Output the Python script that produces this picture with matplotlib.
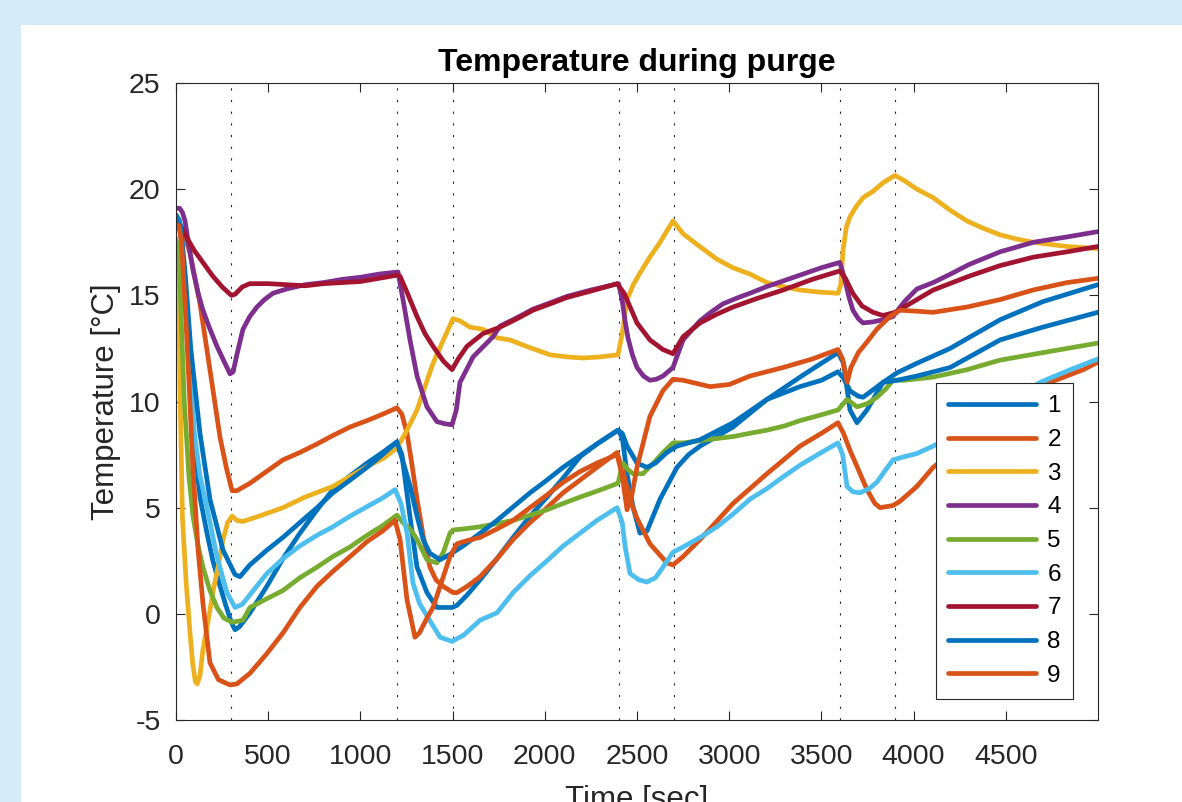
import matplotlib
matplotlib.use('Agg')
import matplotlib.pyplot as plt
from matplotlib.patches import Rectangle

plt.rcParams['font.family'] = ['Liberation Sans', 'DejaVu Sans']
plt.rcParams['axes.unicode_minus'] = False

# sensor traces (time [s], temperature [C])
t1 = [0, 20, 40, 70, 100, 130, 168, 200, 239, 270, 300, 320, 345, 401, 493, 580, 672, 765, 851, 944, 1036, 1120, 1198,
      1225, 1270, 1307, 1361, 1415, 1497, 1524, 1580, 1649, 1741, 1828, 1920, 2012, 2100, 2191, 2283, 2397,
      2420, 2446, 2478, 2516, 2554, 2625, 2717, 2780, 2842, 3021, 3205, 3384, 3500, 3590,
      3620, 3655, 3693, 3747, 3834, 3910, 4018, 4198, 4469, 4700, 4999]
temp1 = [18.8, 18.5, 16.5, 12.0, 8.0, 5.5, 3.8, 2.5, 1.3, 0.4, -0.4, -0.75, -0.6, 0.05, 1.3, 2.6, 3.8, 4.9, 5.85, 6.5, 7.1, 7.6, 8.1,
         7.5, 4.5, 2.2, 1.0, 0.3, 0.3, 0.4, 0.9, 1.6, 2.6, 3.6, 4.6, 5.5, 6.4, 7.4, 8.0, 8.65,
         8.3, 6.6, 5.05, 3.8, 3.9, 5.4, 6.9, 7.5, 7.9, 8.8, 10.1, 11.15, 11.8, 12.3,
         11.8, 9.6, 9.0, 9.6, 10.9, 11.35, 11.8, 12.5, 13.85, 14.7, 15.5]

t2 = [0, 20, 40, 76, 130, 184, 239, 275, 304, 330, 401, 490, 580, 672, 765, 851, 944, 1036, 1120, 1198,
      1225, 1253, 1280, 1307, 1340, 1377, 1410, 1448, 1502, 1524, 1580, 1649, 1741, 1828, 1920, 2012, 2099, 2191, 2283, 2392,
      2430, 2462, 2500, 2570, 2662, 2695, 2750, 2842, 3021, 3205, 3384, 3500, 3590,
      3620, 3655, 3700, 3747, 3790, 3818, 3888, 3926, 4018, 4106, 4300, 4500, 4740, 4920, 4999]
temp2 = [18.3, 18.3, 18.0, 17.0, 14.6, 11.5, 8.3, 6.8, 5.8, 5.8, 6.15, 6.7, 7.25, 7.6, 8.0, 8.4, 8.8, 9.1, 9.4, 9.7,
         9.4, 8.5, 7.0, 5.4, 3.7, 2.2, 1.6, 1.3, 1.0, 1.0, 1.3, 1.75, 2.6, 3.5, 4.3, 5.0, 5.7, 6.3, 6.9, 7.6,
         6.5, 5.4, 4.5, 3.3, 2.4, 2.3, 2.7, 3.5, 5.2, 6.6, 7.9, 8.5, 9.0,
         8.5, 7.7, 6.8, 5.85, 5.2, 5.0, 5.1, 5.3, 6.0, 6.9, 8.2, 9.5, 10.9, 11.5, 11.85]

t3 = [0, 12, 22, 35, 55, 75, 90, 105, 115, 130, 146, 175, 200, 230, 255, 280, 304, 330, 363, 450, 580, 700, 851, 950,
      1050, 1130, 1188, 1210, 1250, 1307, 1350, 1394, 1450, 1502, 1540, 1594, 1665, 1741, 1811, 1900, 2028, 2120, 2207,
      2300, 2397, 2420, 2446, 2480, 2516, 2570, 2625, 2695, 2750, 2840, 2934, 3020, 3113, 3205, 3300, 3384, 3490, 3590,
      3605, 3617, 3635, 3655, 3690, 3726, 3780, 3834, 3899, 3950, 4018, 4106, 4200, 4290, 4380, 4469, 4560, 4648,
      4740, 4832, 4920, 4999]
temp3 = [17.7, 16.5, 10.5, 4.5, 1.5, -0.8, -2.3, -3.2, -3.3, -2.9, -1.7, -0.3, 1.0, 2.3, 3.5, 4.3, 4.6, 4.4, 4.35, 4.6, 5.0, 5.5, 6.0, 6.5,
         7.0, 7.35, 7.75, 8.0, 8.6, 9.6, 10.7, 11.8, 12.9, 13.9, 13.8, 13.5, 13.4, 13.0, 12.9, 12.6, 12.2, 12.1, 12.05,
         12.1, 12.2, 13.2, 14.8, 15.5, 16.05, 16.8, 17.5, 18.5, 17.9, 17.3, 16.7, 16.3, 16.0, 15.6, 15.4, 15.25, 15.15, 15.1,
         15.5, 17.1, 18.2, 18.7, 19.2, 19.6, 19.9, 20.3, 20.65, 20.4, 20.0, 19.6, 19.0, 18.5, 18.15, 17.85, 17.65, 17.5,
         17.4, 17.3, 17.25, 17.2]

t4 = [0, 20, 35, 49, 70, 92, 120, 146, 180, 222, 260, 293, 310, 330, 363, 400, 439, 480, 526, 600, 700, 800, 900, 1000,
      1100, 1204, 1231, 1269, 1307, 1361, 1415, 1460, 1497, 1520, 1540, 1611, 1719, 1757, 1850, 1936, 2030, 2120, 2250,
      2400, 2419, 2435, 2451, 2475, 2500, 2535, 2570, 2605, 2641, 2695, 2720, 2750, 2800, 2842, 2900, 2966, 3050, 3113,
      3200, 3300, 3400, 3500, 3600, 3625, 3650, 3671, 3700, 3726, 3780, 3834, 3888, 3950, 4018, 4106, 4200, 4300, 4469,
      4650, 4832, 4999]
temp4 = [19.1, 19.1, 18.9, 18.5, 17.3, 16.2, 15.1, 14.3, 13.5, 12.6, 11.9, 11.3, 11.4, 12.2, 13.4, 14.0, 14.45, 14.8, 15.1, 15.3, 15.5, 15.6, 15.75, 15.85,
         16.0, 16.1, 14.8, 12.9, 11.2, 9.75, 9.05, 8.95, 8.9, 9.6, 10.9, 12.1, 13.05, 13.55, 13.95, 14.35, 14.65, 14.95, 15.25,
         15.55, 14.8, 13.8, 13.0, 12.2, 11.6, 11.2, 11.0, 11.05, 11.2, 11.6, 12.2, 12.9, 13.4, 13.8, 14.2, 14.6, 14.9, 15.1,
         15.4, 15.7, 16.0, 16.3, 16.55, 15.8, 14.9, 14.3, 13.9, 13.7, 13.75, 13.85, 14.0, 14.7, 15.3, 15.6, 16.0, 16.45, 17.05,
         17.5, 17.75, 18.0]

t5 = [0, 15, 30, 45, 70, 92, 120, 146, 184, 222, 260, 304, 363, 401, 490, 580, 672, 765, 851, 944, 1036, 1120, 1198,
      1230, 1270, 1307, 1361, 1415, 1450, 1486, 1502, 1560, 1649, 1741, 1828, 1920, 2012, 2100, 2191, 2290, 2397,
      2424, 2450, 2478, 2532, 2590, 2641, 2695, 2750, 2880, 3021, 3110, 3205, 3300, 3384, 3490, 3590,
      3639, 3693, 3750, 3801, 3850, 3888, 3950, 4106, 4290, 4469, 4700, 4999]
temp5 = [17.6, 17.2, 13.5, 10.0, 6.5, 4.6, 3.2, 2.2, 1.1, 0.3, -0.2, -0.4, -0.3, 0.3, 0.7, 1.1, 1.7, 2.2, 2.7, 3.15, 3.7, 4.15, 4.65,
         4.3, 4.0, 3.5, 2.55, 2.4, 2.9, 3.8, 3.95, 4.0, 4.1, 4.25, 4.4, 4.65, 4.9, 5.2, 5.5, 5.8, 6.15,
         7.1, 6.8, 6.6, 6.6, 7.1, 7.6, 8.05, 8.05, 8.2, 8.35, 8.5, 8.65, 8.85, 9.1, 9.35, 9.6,
         10.1, 9.75, 9.9, 10.2, 10.6, 11.0, 11.0, 11.15, 11.5, 11.95, 12.3, 12.75]

t6 = [0, 20, 40, 70, 100, 130, 168, 222, 276, 320, 360, 401, 493, 580, 672, 765, 851, 944, 1036, 1120, 1188,
      1220, 1253, 1285, 1320, 1361, 1432, 1497, 1560, 1649, 1741, 1828, 1920, 2012, 2100, 2191, 2283, 2392,
      2420, 2435, 2462, 2510, 2554, 2600, 2641, 2695, 2750, 2842, 2934, 3021, 3113, 3205, 3292, 3384, 3490, 3590,
      3615, 3639, 3670, 3709, 3760, 3801, 3850, 3888, 3950, 4018, 4106, 4300, 4500, 4686, 4850, 4999]
temp6 = [18.6, 18.4, 16.5, 12.0, 8.5, 6.5, 5.0, 2.7, 1.0, 0.3, 0.45, 0.9, 1.9, 2.6, 3.2, 3.7, 4.1, 4.6, 5.05, 5.45, 5.85,
         5.2, 3.8, 1.45, 0.5, -0.1, -1.1, -1.3, -1.0, -0.3, 0.05, 1.0, 1.8, 2.5, 3.2, 3.8, 4.4, 5.0,
         4.3, 3.2, 1.9, 1.6, 1.5, 1.7, 2.2, 2.9, 3.15, 3.6, 4.1, 4.7, 5.4, 5.9, 6.45, 7.0, 7.55, 8.05,
         7.5, 6.0, 5.75, 5.7, 5.9, 6.2, 6.8, 7.25, 7.4, 7.55, 7.9, 8.8, 9.9, 10.9, 11.5, 12.0]

t7 = [0, 30, 60, 100, 150, 200, 250, 300, 320, 360, 400, 500, 600, 700, 800, 900, 1000, 1100, 1200,
      1215, 1250, 1307, 1350, 1394, 1450, 1497, 1530, 1578, 1665, 1757, 1850, 1936, 2030, 2120, 2250, 2392,
      2430, 2470, 2500, 2570, 2640, 2695, 2750, 2842, 2930, 3021, 3150, 3292, 3450, 3600,
      3630, 3670, 3720, 3780, 3834, 3900, 4018, 4106, 4300, 4469, 4650, 4832, 4999]
temp7 = [18.5, 18.2, 17.7, 17.1, 16.5, 15.9, 15.4, 15.0, 15.05, 15.4, 15.55, 15.55, 15.5, 15.45, 15.55, 15.6, 15.65, 15.8, 15.95,
         15.9, 15.2, 14.0, 13.2, 12.6, 11.9, 11.5, 12.0, 12.6, 13.2, 13.5, 13.9, 14.3, 14.6, 14.9, 15.2, 15.55,
         15.1, 14.3, 13.7, 12.9, 12.45, 12.25, 13.05, 13.7, 14.1, 14.45, 14.85, 15.25, 15.75, 16.15,
         15.8, 15.1, 14.5, 14.2, 14.05, 14.2, 14.8, 15.25, 15.9, 16.4, 16.8, 17.05, 17.3]

t8 = [0, 25, 50, 80, 130, 184, 255, 320, 347, 400, 493, 580, 672, 765, 851, 944, 1036, 1120, 1198,
      1230, 1270, 1307, 1340, 1377, 1432, 1486, 1557, 1650, 1741, 1830, 1920, 2012, 2099, 2191, 2283, 2397,
      2420, 2446, 2500, 2554, 2600, 2662, 2717, 2842, 3021, 3205, 3384, 3500, 3590,
      3620, 3655, 3700, 3726, 3834, 3910, 4018, 4198, 4469, 4700, 4999]
temp8 = [18.6, 18.3, 16.0, 12.5, 8.5, 5.4, 3.0, 1.85, 1.75, 2.3, 3.0, 3.6, 4.3, 5.0, 5.7, 6.3, 6.9, 7.5, 8.1,
         7.2, 6.0, 4.6, 3.5, 2.85, 2.55, 2.8, 3.2, 3.8, 4.4, 5.05, 5.7, 6.3, 6.9, 7.45, 8.0, 8.65,
         8.5, 7.9, 7.1, 6.9, 7.1, 7.6, 7.9, 8.2, 9.0, 10.1, 10.7, 11.0, 11.4,
         11.1, 10.5, 10.25, 10.2, 10.9, 11.0, 11.2, 11.6, 12.9, 13.5, 14.2]

t9 = [0, 15, 30, 50, 70, 92, 120, 146, 184, 230, 293, 330, 401, 490, 580, 672, 765, 851, 944, 1036, 1120, 1188,
      1215, 1253, 1296, 1320, 1361, 1394, 1440, 1486, 1524, 1580, 1649, 1741, 1828, 1920, 2012, 2100, 2191, 2283, 2392,
      2420, 2446, 2470, 2500, 2570, 2640, 2695, 2750, 2896, 3000, 3113, 3292, 3450, 3590,
      3615, 3640, 3660, 3700, 3747, 3800, 3872, 3926, 4018, 4106, 4290, 4469, 4648, 4832, 4999]
temp9 = [18.2, 18.3, 17.5, 14.5, 11.0, 6.8, 3.0, 0.5, -2.3, -3.1, -3.35, -3.3, -2.8, -1.9, -0.9, 0.3, 1.3, 2.0, 2.7, 3.4, 3.9, 4.4,
         3.5, 0.65, -1.1, -0.9, -0.2, 0.3, 1.5, 2.7, 3.3, 3.45, 3.6, 4.0, 4.4, 5.0, 5.6, 6.2, 6.7, 7.1, 7.5,
         6.5, 4.9, 5.5, 6.9, 9.3, 10.5, 11.05, 11.0, 10.7, 10.8, 11.2, 11.6, 12.0, 12.45,
         12.0, 10.9, 11.6, 12.3, 12.8, 13.4, 14.0, 14.3, 14.25, 14.2, 14.45, 14.8, 15.25, 15.6, 15.8]

purge_times = [300, 1200, 1500, 2400, 2700, 3600, 3900]

series = [(t1, temp1), (t2, temp2), (t3, temp3), (t4, temp4), (t5, temp5),
          (t6, temp6), (t7, temp7), (t8, temp8), (t9, temp9)]
colors = ['#0072BD', '#D95319', '#EDB120', '#7E2F8E', '#77AC30',
          '#4DBEEE', '#A2142F', '#0072BD', '#D95319']

W, H = 1182, 802
fig = plt.figure(figsize=(W / 100, H / 100), dpi=100, facecolor='#d4ecf7')
panel = Rectangle((21 / W, 0), 1, (H - 25) / H, transform=fig.transFigure,
                  facecolor='white', edgecolor='none', zorder=-10)
fig.add_artist(panel)
ax = fig.add_axes([176 / W, 1 - 720 / H, (1098 - 176) / W, (720 - 83) / H])
ax.set_zorder(1)

for x in purge_times:
    ax.axvline(x, color='#262626', lw=0.8, linestyle=(0, (2, 8.5)), zorder=1)

for i, ((t, T), c) in enumerate(zip(series, colors)):
    ax.plot(t, T, color=c, lw=3.4, label=str(i + 1), solid_joinstyle='round', solid_capstyle='round', zorder=2)

ax.set_xlim(0, 5000)
ax.set_ylim(-5, 25)
ax.set_xticks(range(0, 5000, 500))
ax.set_yticks(range(-5, 30, 5))
ax.tick_params(direction='in', top=True, right=True, length=6.5, width=0.8,
               labelsize=20.5, colors='#262626')
ax.tick_params(axis='x', pad=17)
ax.tick_params(axis='y', pad=11)
for s in ax.spines.values():
    s.set_color('#262626')
    s.set_linewidth(0.8)

ax.set_title('Temperature during purge', fontsize=23, fontweight='bold', pad=9)
ax.set_xlabel('Time [sec]', fontsize=22.5, color='#262626', labelpad=11)
ax.set_ylabel('Temperature [°C]', fontsize=22.5, color='#262626', labelpad=6)

leg = ax.legend(loc='lower right', bbox_to_anchor=(1073 / W, 1 - 699 / H), bbox_transform=fig.transFigure,
                borderaxespad=0, fontsize=17.5, fancybox=False, framealpha=1, edgecolor='#262626',
                handlelength=3.65, handletextpad=0.45, labelspacing=0.48, borderpad=0.5)
leg.get_frame().set_linewidth(0.8)

fig.savefig('out.png', dpi=100, facecolor=fig.get_facecolor())
